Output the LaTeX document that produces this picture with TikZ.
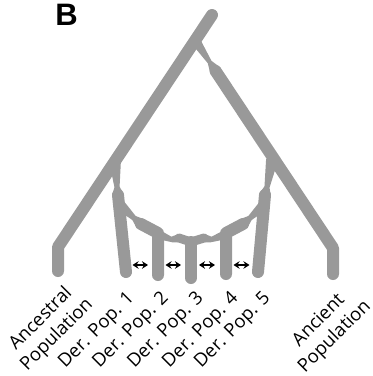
\documentclass[tikz,border=0pt]{standalone}
\usepackage{fontspec}
\setmainfont{Open Sans}
\newfontfamily\panelfont{Liberation Sans}
\usetikzlibrary{calc,arrows.meta}
\definecolor{lineage}{RGB}{153,153,153}
\tikzset{
  branch/.style={draw=lineage, line width=12pt, line cap=round, line join=round},
  thinbranch/.style={draw=lineage, line width=9pt, line cap=round, line join=round},
  poplabel/.style={rotate=45, anchor=east, inner sep=0pt, font=\fontsize{18.5}{23}\selectfont},
  grouplabel/.style={rotate=45, align=center, inner sep=0pt, font=\fontsize{18.5}{22.6}\selectfont},
  flow/.style={{Stealth[length=6pt,width=7.5pt]}-{Stealth[length=6pt,width=7.5pt]}, line width=1.4pt, black},
}
% bottleneck: a -> neck b -> c, with half widths at a, b and c
\newcommand\neck[6]{%
  \fill[lineage] ($(#1)!#4!90:(#3)$) -- ($(#2)!#5!90:(#3)$) -- ($(#3)!#6!-90:(#1)$)
    -- ($(#3)!#6!90:(#1)$) -- ($(#2)!#5!-90:(#3)$) -- ($(#1)!#4!-90:(#3)$) -- cycle;}
\begin{document}
\begin{tikzpicture}[x=1pt,y=-1pt]
\useasboundingbox (0,0) rectangle (373,376);

% panel letter
\node[inner sep=0pt, font=\panelfont\bfseries\fontsize{31}{31}\selectfont] (panel) at (66.5,14.5) {B};

% outer lineages
\coordinate (top) at (212,15);
\coordinate (anbend) at (58,247);
\coordinate (anc) at (58,271);
\coordinate (rj) at (195,40);
\coordinate (rn) at (209.6,62);
\coordinate (rs) at (215.6,71);
\coordinate (aibend) at (333,248);
\coordinate (ai) at (333,274);

% inner lineages
\coordinate (lj) at (115,160);
\coordinate (ln) at (117,187);
\coordinate (ls) at (118,195);
\coordinate (p1) at (126,272);
\coordinate (rij) at (272,160);
\coordinate (rin) at (267,187);
\coordinate (ris) at (265,195);
\coordinate (p5) at (258,272);

% left band towards pop 2 and 3
\coordinate (lb) at (120,205);
\coordinate (lbn) at (134,218);
\coordinate (lbs) at (141,224);
\coordinate (p2top) at (158,233);
\coordinate (p2) at (158,275);
\coordinate (lc) at (160,235);
\coordinate (lcn) at (172,239.5);
\coordinate (lcs) at (179,238);
\coordinate (p3top) at (191,242);
\coordinate (p3) at (191,278);

% right band towards pop 4 and 3
\coordinate (rb) at (264,205);
\coordinate (rbn) at (250,218);
\coordinate (rbs) at (243,224);
\coordinate (p4top) at (226,233);
\coordinate (p4) at (226,274);
\coordinate (rc) at (224,235);
\coordinate (rcn) at (211,239.5);
\coordinate (rcs) at (204,238);

\draw[branch] (top) -- (anbend) -- (anc);
\neck{rj}{rn}{rs}{5pt}{2.2pt}{6pt}
\draw[branch] (rs) -- (aibend) -- (ai);

\neck{lj}{ln}{ls}{6pt}{2.6pt}{6pt}
\draw[branch] (ls) -- (p1);
\neck{rij}{rin}{ris}{6pt}{2.6pt}{6pt}
\draw[branch] (ris) -- (p5);

\neck{lb}{lbn}{lbs}{5.5pt}{2.6pt}{6pt}
\draw[branch] (lbs) -- (p2top) -- (p2);
\neck{lc}{lcn}{lcs}{4.5pt}{2.9pt}{4.5pt}
\draw[thinbranch] (lcs) -- (p3top);

\neck{rb}{rbn}{rbs}{5.5pt}{2.6pt}{6pt}
\draw[branch] (rbs) -- (p4top) -- (p4);
\neck{rc}{rcn}{rcs}{4.5pt}{2.9pt}{4.5pt}
\draw[thinbranch] (rcs) -- (p3top);

\draw[branch] (p3top) -- (p3);

% gene flow between neighbouring derived populations
\coordinate (f1a) at (132.5,265); \coordinate (f1b) at (148,265);
\coordinate (f2a) at (165.5,265); \coordinate (f2b) at (181,265);
\coordinate (f3a) at (199,265); \coordinate (f3b) at (215,265);
\coordinate (f4a) at (233.5,265); \coordinate (f4b) at (249.5,265);
\draw[flow] (f1a) -- (f1b);
\draw[flow] (f2a) -- (f2b);
\draw[flow] (f3a) -- (f3b);
\draw[flow] (f4a) -- (f4b);

% labels
\node[grouplabel] (lanc) at (49,327) {Ancestral\\Population};
\node[poplabel] (l1) at (132,296) {Der. Pop. 1};
\node[poplabel] (l2) at (166,296) {Der. Pop. 2};
\node[poplabel] (l3) at (201,296) {Der. Pop. 3};
\node[poplabel] (l4) at (236,296) {Der. Pop. 4};
\node[poplabel] (l5) at (268,296) {Der. Pop. 5};
\node[grouplabel] (lai) at (327,329) {Ancient\\Population};
\end{tikzpicture}
\end{document}
